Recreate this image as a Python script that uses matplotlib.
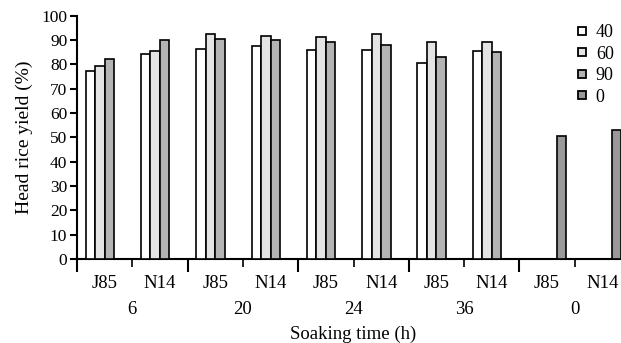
import matplotlib
matplotlib.use("Agg")
import matplotlib.pyplot as plt
from matplotlib.lines import Line2D
import numpy as np

plt.rcParams['font.family'] = ['Liberation Serif', 'DejaVu Serif']

cultivars = ["J85", "N14", "J85", "N14", "J85", "N14", "J85", "N14", "J85", "N14"]
times = ["6", "20", "24", "36", "0"]
series_names = ["40", "60", "90", "0"]
nan = np.nan
s40 = [77.2, 84.2, 86.3, 87.5, 86.0, 86.0, 80.4, 85.5, nan, nan]
s60 = [79.1, 85.5, 92.3, 91.4, 91.1, 92.3, 89.2, 89.2, nan, nan]
s90 = [82.2, 90.0, 90.4, 89.8, 89.2, 87.8, 82.9, 84.9, nan, nan]
s0 = [nan, nan, nan, nan, nan, nan, nan, nan, 50.6, 52.8]
series = [s40, s60, s90, s0]
colors = ["#ffffff", "#e4e4e4", "#b4b4b4", "#999999"]

fig = plt.figure(figsize=(6.21, 3.43), dpi=100)
ax = fig.add_axes([77/621, 84/343, 553/621, 243.5/343])

x = np.arange(len(cultivars))
w = 0.172
for k, (vals, c) in enumerate(zip(series, colors)):
    v = np.array(vals, dtype=float)
    m = ~np.isnan(v)
    ax.bar(x[m] + (k - 1.5) * w, v[m], width=w, color=c, edgecolor="black", linewidth=1.2, zorder=3)

ax.set_xlim(-0.5, len(cultivars) - 0.5)
ax.set_ylim(0, 100)
ax.set_yticks(np.arange(0, 101, 10))
ax.tick_params(axis='y', direction='out', length=5, width=1.5, labelsize=12.5, pad=2)
ax.spines['top'].set_visible(False)
ax.spines['right'].set_visible(False)
ax.spines['left'].set_linewidth(1.5)
ax.spines['bottom'].set_linewidth(1.5)

long_ticks = np.arange(-0.5, len(cultivars), 2)
short_ticks = np.arange(0.5, len(cultivars), 2)
ax.set_xticks(long_ticks)
ax.set_xticks(short_ticks, minor=True)
ax.set_xticklabels([])
ax.tick_params(axis='x', which='major', direction='out', length=9, width=1.5)
ax.tick_params(axis='x', which='minor', direction='out', length=5.5, width=1.2)

for xi, lab in zip(x, cultivars):
    ax.annotate(lab, xy=(xi, 0), xycoords=('data', 'axes fraction'), xytext=(0, -18),
                textcoords='offset points', ha='center', va='center', fontsize=13.5)
for gi, lab in enumerate(times):
    ax.annotate(lab, xy=(2 * gi + 0.5, 0), xycoords=('data', 'axes fraction'), xytext=(0, -36.5),
                textcoords='offset points', ha='center', va='center', fontsize=13.5)
ax.annotate("Soaking time (h)", xy=(4.5, 0), xycoords=('data', 'axes fraction'), xytext=(0, -54),
            textcoords='offset points', ha='center', va='center', fontsize=13.5)

ax.set_ylabel("Head rice yield (%)", fontsize=14, labelpad=6)

handles = [Line2D([], [], marker='s', linestyle='none', markersize=6, markerfacecolor=c,
                  markeredgecolor='black', markeredgewidth=1.3) for c in colors]
leg = fig.legend(handles, series_names, loc='upper left', bbox_to_anchor=(566/621, 1 - 15/343),
                 frameon=False, fontsize=13, handlelength=0.8, handletextpad=0.35,
                 labelspacing=0.25, borderpad=0)

fig.savefig("out.png", dpi=100)
